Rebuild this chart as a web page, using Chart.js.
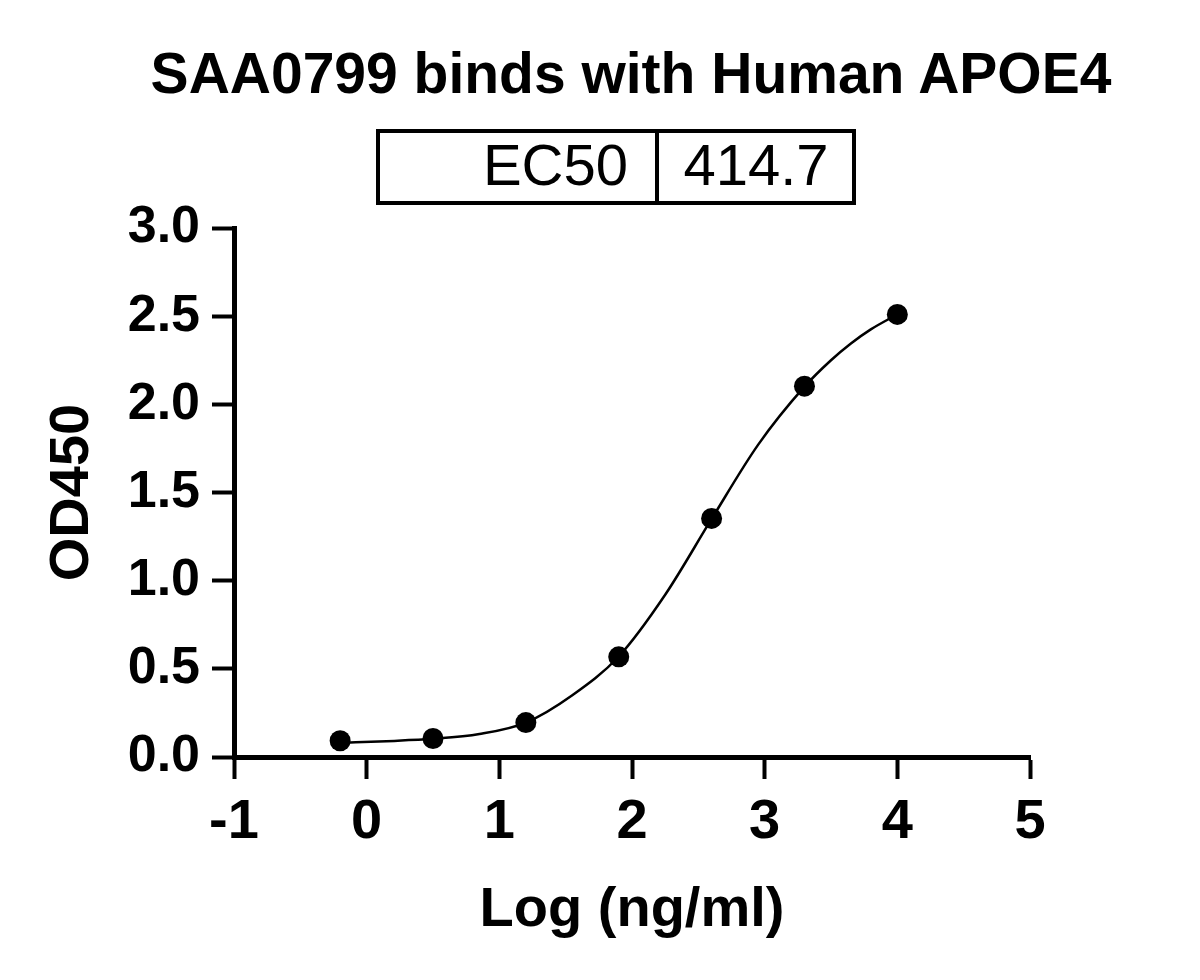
<!DOCTYPE html>
<html>
<head>
<meta charset="utf-8">
<script src="https://cdn.jsdelivr.net/npm/chart.js@4/dist/chart.umd.min.js"></script>
<style>
    body { margin: 0; background: #fff; }
    #wrap { position: relative; width: 1200px; height: 980px; font-family: 'Liberation Sans', Arial, sans-serif; color: #000; }
    #chart { position: absolute; left: 0; top: 0; }
    #title { position: absolute; left: 631px; top: 45px; transform: translateX(-50%); white-space: nowrap;
             font-size: 57px; line-height: 57px; font-weight: bold; }
    #ecBox { position: absolute; left: 376px; top: 129px; width: 480px; height: 76px; border: 4px solid #000; box-sizing: border-box; }
    #ecDiv { position: absolute; left: 655px; top: 129px; width: 4px; height: 76px; background: #000; }
    .ecTxt { position: absolute; top: 136px; font-size: 58px; line-height: 58px; white-space: nowrap; }
    #ecLabel { left: 376px; width: 252px; text-align: right; }
    #ecValue { left: 657px; width: 198px; text-align: center; }
</style>
</head>
<body>
<div id="wrap">
    <canvas id="chart" width="1200" height="980"></canvas>
    <div id="title">SAA0799 binds with Human APOE4</div>
    <div id="ecBox"></div>
    <div id="ecDiv"></div>
    <div id="ecLabel" class="ecTxt">EC50</div>
    <div id="ecValue" class="ecTxt">414.7</div>
</div>
<script>
// measured points
const logConc = [-0.2, 0.5, 1.2, 1.9, 2.6, 3.3, 4.0]
const od450 = [0.092, 0.105, 0.195, 0.568, 1.353, 2.103, 2.51]

// fitted curve
const fitX = [-0.2, 0.15, 0.5, 0.85, 1.2, 1.55, 1.9, 2.25, 2.6, 2.95, 3.3, 3.5, 3.65, 3.8, 4.0]
const fitY = [0.08, 0.09, 0.103, 0.13, 0.195, 0.35, 0.57, 0.92, 1.35, 1.77, 2.10, 2.25, 2.345, 2.425, 2.51]

const xTickValues = [-1, 0, 1, 2, 3, 4, 5]
const yTickValues = [0, 0.5, 1.0, 1.5, 2.0, 2.5, 3.0]

const fontFamily = "'Liberation Sans', Arial, sans-serif"

function makeChart(id) {
    const data = {
        datasets: [{
                type: 'scatter',
                label: 'OD450',
                data: logConc.map((x, i) => ({x: x, y: od450[i]})),
                backgroundColor: '#000',
                borderColor: '#000',
                borderWidth: 0,
                pointRadius: 10.5,
                clip: false
            }, {
                type: 'line',
                label: 'fit',
                data: fitX.map((x, i) => ({x: x, y: fitY[i]})),
                borderColor: '#000',
                borderWidth: 2.5,
                pointRadius: 0,
                fill: false,
                cubicInterpolationMode: 'monotone',
                clip: false
            }]
    };

    const config = {
        type: 'scatter',
        data: data,
        options: {
            responsive: false,
            animation: false,
            devicePixelRatio: 1,
            layout: {padding: {left: 0, right: 170, top: 228, bottom: 0}},
            plugins: {legend: {display: false}, tooltip: {enabled: false}, title: {display: false}},
            scales: {
                x: {
                    type: 'linear',
                    min: -1,
                    max: 5,
                    afterBuildTicks: s => { s.ticks = xTickValues.map(v => ({value: v})) },
                    afterFit: s => { s.height = 223 },
                    ticks: {
                        color: '#000',
                        padding: 10,
                        maxRotation: 0,
                        autoSkip: false,
                        font: {family: fontFamily, size: 56, weight: 'bold'},
                        callback: v => String(v)
                    },
                    grid: {drawOnChartArea: false, drawTicks: true, tickLength: 22, tickWidth: 4, color: '#000'},
                    border: {display: true, width: 5, color: '#000'},
                    title: {
                        display: true,
                        text: 'Log (ng/ml)',
                        color: '#000',
                        font: {family: fontFamily, size: 56, weight: 'bold'},
                        padding: {top: 0, bottom: 36}
                    }
                },
                y: {
                    type: 'linear',
                    min: 0,
                    max: 3,
                    afterBuildTicks: s => { s.ticks = yTickValues.map(v => ({value: v})) },
                    afterFit: s => { s.width = 234 },
                    ticks: {
                        color: '#000',
                        padding: 12,
                        font: {family: fontFamily, size: 52, weight: 'bold'},
                        callback: v => v.toFixed(1)
                    },
                    grid: {drawOnChartArea: false, drawTicks: true, tickLength: 22, tickWidth: 4, color: '#000'},
                    border: {display: true, width: 5, color: '#000'},
                    title: {
                        display: true,
                        text: 'OD450',
                        color: '#000',
                        font: {family: fontFamily, size: 56, weight: 'bold'},
                        padding: {top: 39, bottom: 0}
                    }
                }
            }
        }
    };

    let ctx = document.getElementById(id).getContext("2d");
    return new Chart(ctx, config);
}

makeChart('chart')
</script>
</body>
</html>
